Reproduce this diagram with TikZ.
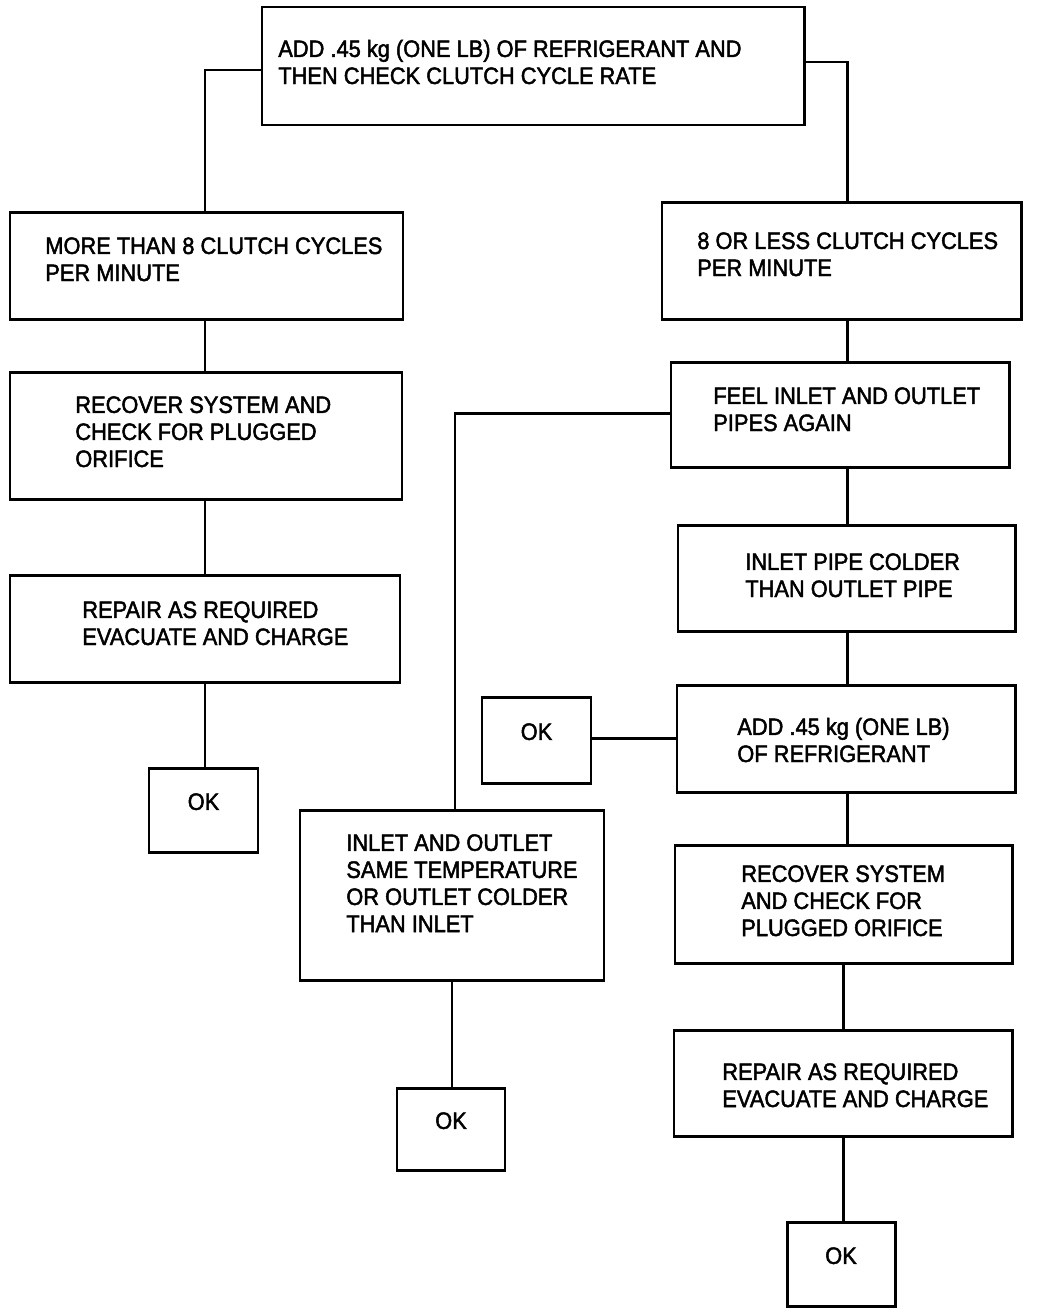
\documentclass[tikz,border=0pt]{standalone}
\usepackage{fontspec}
\setmainfont{Liberation Sans}[FakeStretch=0.92,FakeBold=2]
\usetikzlibrary{fit}
\begin{document}
\begin{tikzpicture}[x=0.02cm,y=-0.02cm,
  box/.style={draw, line width=1.7pt, inner sep=0pt, font=\fontsize{13.5}{15.4}\selectfont},
  txt/.style={anchor=base west, align=left, inner sep=0pt, font=\fontsize{13.5}{15.4}\selectfont},
  conn/.style={line width=1.7pt}]
\useasboundingbox (0,0) rectangle (1040,1316);
% boxes
\node[box, fit={(262,7) (804,125)}] (b1) {};
\node[box, fit={(10,212) (403,319)}] (b2) {};
\node[box, fit={(10,372) (402,499)}] (b3) {};
\node[box, fit={(10,575) (400,682)}] (b4) {};
\node[box, fit={(149,768) (258,852)}] (ok1) {OK};
\node[box, fit={(662,202) (1021,319)}] (b6) {};
\node[box, fit={(671,362) (1009,467)}] (b7) {};
\node[box, fit={(678,525) (1015,631)}] (b8) {};
\node[box, fit={(677,685) (1015,792)}] (b9) {};
\node[box, fit={(482,697) (591,783)}] (ok2) {OK};
\node[box, fit={(675,845) (1012,963)}] (b10) {};
\node[box, fit={(674,1030) (1012,1136)}] (b11) {};
\node[box, fit={(787,1222) (895,1306)}] (ok4) {OK};
\node[box, fit={(300,810) (604,980)}] (b13) {};
\node[box, fit={(397,1088) (505,1170)}] (ok3) {OK};
% texts (base anchor = baseline of last line)
\node[txt] (t1) at (278,84) {ADD .45 kg (ONE LB) OF REFRIGERANT AND\\THEN CHECK CLUTCH CYCLE RATE};
\node[txt] (t2) at (45,281) {MORE THAN 8 CLUTCH CYCLES\\PER MINUTE};
\node[txt] (t3) at (75,467) {RECOVER SYSTEM AND\\CHECK FOR PLUGGED\\ORIFICE};
\node[txt] (t4) at (82,645) {REPAIR AS REQUIRED\\EVACUATE AND CHARGE};
\node[txt] (t6) at (697,276) {8 OR LESS CLUTCH CYCLES\\PER MINUTE};
\node[txt] (t7) at (713,431) {FEEL INLET AND OUTLET\\PIPES AGAIN};
\node[txt] (t8) at (745,597) {INLET PIPE COLDER\\THAN OUTLET PIPE};
\node[txt] (t9) at (737,762) {ADD .45 kg (ONE LB)\\OF REFRIGERANT};
\node[txt] (t10) at (741,936) {RECOVER SYSTEM\\AND CHECK FOR\\PLUGGED ORIFICE};
\node[txt] (t11) at (722,1107) {REPAIR AS REQUIRED\\EVACUATE AND CHARGE};
\node[txt] (t13) at (346,932) {INLET AND OUTLET\\SAME TEMPERATURE\\OR OUTLET COLDER\\THAN INLET};
% connector guides
\coordinate (cl) at (205,70);
\coordinate (cr) at (847,62);
\coordinate (cm) at (455,413);
\coordinate (cx) at (843,0);
\coordinate (cy) at (452,0);
\coordinate (co) at (0,738);
% connectors
\draw[conn] (b1.west |- cl) -| (cl |- b2.north);
\draw[conn] (b1.east |- cr) -| (cr |- b6.north);
\draw[conn] (cl |- b2.south) -- (cl |- b3.north);
\draw[conn] (cl |- b3.south) -- (cl |- b4.north);
\draw[conn] (cl |- b4.south) -- (cl |- ok1.north);
\draw[conn] (cr |- b6.south) -- (cr |- b7.north);
\draw[conn] (cr |- b7.south) -- (cr |- b8.north);
\draw[conn] (cr |- b8.south) -- (cr |- b9.north);
\draw[conn] (cr |- b9.south) -- (cr |- b10.north);
\draw[conn] (cx |- b10.south) -- (cx |- b11.north);
\draw[conn] (cx |- b11.south) -- (cx |- ok4.north);
\draw[conn] (ok2.east |- co) -- (b9.west |- co);
\draw[conn] (b7.west |- cm) -| (cm |- b13.north);
\draw[conn] (cy |- b13.south) -- (cy |- ok3.north);
\end{tikzpicture}
\end{document}
